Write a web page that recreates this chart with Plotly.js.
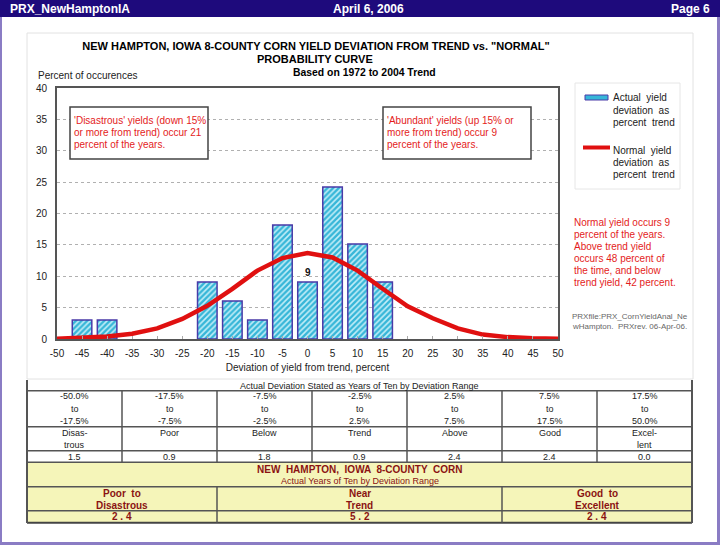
<!DOCTYPE html>
<html><head><meta charset="utf-8">
<script src="https://cdn.plot.ly/plotly-3.0.1.min.js"></script>
<style>html,body{margin:0;padding:0;background:#fff;}#chart{width:720px;height:545px;}</style>
</head><body><div id="chart"></div>
<script>
// ---------- DATA ----------
const barX = [-45, -40, -20, -15, -10, -5, 0, 5, 10, 15];
const barY = [3.03, 3.03, 9.09, 6.06, 3.03, 18.18, 9.09, 24.24, 15.15, 9.09];
const barLabels = ['', '', '', '', '', '', '9', '', '', ''];
const normX = [-50, -45, -40, -35, -30, -25, -20, -15, -10, -5, 0, 5, 10, 15, 20, 25, 30, 35, 40, 45, 50];
const normY = [0.05, 0.2, 0.4, 0.85, 1.7, 3.2, 5.3, 8.0, 10.9, 12.9, 13.7, 13.0, 10.9, 8.0, 5.2, 3.3, 1.7, 0.7, 0.3, 0.12, 0.03];
const xTicks = [-50, -45, -40, -35, -30, -25, -20, -15, -10, -5, 0, 5, 10, 15, 20, 25, 30, 35, 40, 45, 50];
const yTicks = [0, 5, 10, 15, 20, 25, 30, 35, 40];
const rangeLabels = [["-50.0%", "to", "-17.5%"], ["-17.5%", "to", "-7.5%"], ["-7.5%", "to", "-2.5%"], ["-2.5%", "to", "2.5%"], ["2.5%", "to", "7.5%"], ["7.5%", "to", "17.5%"], ["17.5%", "to", "50.0%"]];
const classLabels = [["Disas-", "trous"], ["Poor"], ["Below"], ["Trend"], ["Above"], ["Good"], ["Excel-", "lent"]];
const yearsOfTen = ["1.5", "0.9", "1.8", "0.9", "2.4", "2.4", "0.0"];
const groupLabels = [["Poor  to", "Disastrous"], ["Near", "Trend"], ["Good  to", "Excellent"]];
const groupYears = ["2 . 4", "5 . 2", "2 . 4"];
const legendNames = [["Actual  yield", "deviation  as", "percent  trend"], ["Normal  yield", "deviation  as", "percent  trend"]];
const noteLow = ["'Disastrous' yields (down 15%", "or more from trend) occur 21", "percent of the years."];
const noteHigh = ["'Abundant' yields (up 15% or", "more from trend) occur 9", "percent of the years."];
const noteRight = ["Normal yield occurs 9", "percent of the years.", "Above trend yield", "occurs 48 percent of", "the time, and below", "trend yield, 42 percent."];
const fileNote = ["PRXfile:PRX_CornYieldAnal_Ne", "wHampton.  PRXrev. 06-Apr-06."];

// ---------- LAYOUT HELPERS ----------
const W = 720, H = 545, L = 57, R = 162, T = 88, B = 206;
const PW = W - L - R, PH = H - T - B;
const px = X => (X - L) / PW;
const py = Y => (H - B - Y) / PH;
const F = 'Liberation Sans, Arial, sans-serif';
const RED = '#e41c1c', DARKRED = '#8a1212', GRID = '#555';
const annotations = [], shapes = [];

function txt(s, X, Y, o = {}) {
  annotations.push({
    xref: 'paper', yref: 'paper', x: px(X), y: py(Y), text: o.bold ? '<b>' + s + '</b>' : s,
    showarrow: false, xanchor: o.anchor || 'center', yanchor: 'middle', borderpad: 0,
    font: { family: F, size: o.size || 9, color: o.color || '#222' }
  });
}
function lines(arr, X, Y0, dy, o) { arr.forEach((s, i) => txt(s, X, Y0 + i * dy, o)); }
function rect(X0, Y0, X1, Y1, fill, lc, lw) {
  shapes.push({ type: 'rect', xref: 'paper', yref: 'paper', x0: px(X0), x1: px(X1), y0: py(Y0), y1: py(Y1),
    fillcolor: fill || 'rgba(0,0,0,0)', line: { color: lc || 'rgba(0,0,0,0)', width: lw || 0 }, layer: 'above' });
}
function seg(X0, Y0, X1, Y1, c, w) {
  shapes.push({ type: 'line', xref: 'paper', yref: 'paper', x0: px(X0), x1: px(X1), y0: py(Y0), y1: py(Y1),
    line: { color: c, width: w }, layer: 'above' });
}

// page frame & header
rect(0, 0, 720, 17, '#1e0a7c');
rect(0, 17, 2, 545, '#8a7cc4');
rect(717, 17, 720, 545, '#8a7cc4');
rect(0, 542, 720, 545, '#8a7cc4');
txt('PRX_NewHamptonIA', 9, 8.5, { bold: true, size: 12, color: '#fff', anchor: 'left' });
txt('April 6, 2006', 368, 8.5, { bold: true, size: 12, color: '#fff' });
txt('Page 6', 711, 8.5, { bold: true, size: 12, color: '#fff', anchor: 'right' });
rect(27, 33, 693, 379, null, '#e2e2e2', 1);

// titles
txt('PROBABILITY CURVE', 315, 59, { bold: true, size: 11, color: '#000' });
txt('Based on 1972 to 2004 Trend', 364, 72, { bold: true, size: 10.4, color: '#000' });
txt('Percent of occurences', 37, 75, { size: 10, anchor: 'left', color: '#222' });

// note boxes
rect(70, 107, 208, 159, '#fff', '#444', 1.5);
rect(383, 107, 531, 159, '#fff', '#444', 1.5);
lines(noteLow, 73, 120, 12.2, { size: 10, color: RED, anchor: 'left' });
lines(noteHigh, 386, 120, 12.2, { size: 10, color: RED, anchor: 'left' });
lines(noteRight, 573, 222.5, 11.9, { size: 10, color: RED, anchor: 'left' });
lines(fileNote, 571, 316.5, 10, { size: 8, color: '#666', anchor: 'left' });

// custom legend
rect(575, 83, 680, 189, null, '#e6e6e6', 1);
rect(585, 95, 608, 100, '#36b6d8', '#4a3aa8', 1);
seg(583, 147.5, 610, 147.5, '#e01010', 4);
lines(legendNames[0], 612, 98, 12, { size: 10, color: '#222', anchor: 'left' });
lines(legendNames[1], 612, 150, 12, { size: 10, color: '#222', anchor: 'left' });

// bar value labels
barLabels.forEach((s, i) => {
  if (s) annotations.push({ xref: 'x', yref: 'y', x: barX[i], y: barY[i], text: '<b>' + s + '</b>', showarrow: false,
    yanchor: 'bottom', yshift: 2, font: { family: F, size: 10, color: '#111' } });
});

// ---------- TABLE ----------
const colX = [27, 122, 217, 312, 407, 502, 597, 692];
const grpX = [27, 217, 502, 692];
rect(27, 462.3, 692, 522.7, '#f5f5b9');
[390.7, 426.7, 450.7, 462.3, 486.7, 510.7].forEach(y => seg(27, y, 692, y, GRID, 1.5));
seg(27, 522.7, 692, 522.7, '#444', 2);
seg(27, 380, 27, 523, GRID, 2);
seg(692, 380, 692, 523, GRID, 2);
colX.slice(1, -1).forEach(x => seg(x, 390.7, x, 462.3, GRID, 1.5));
grpX.slice(1, -1).forEach(x => seg(x, 486.7, x, 522.7, GRID, 1.5));
txt('Actual Deviation Stated as Years of Ten by Deviation Range', 359.5, 385.5, { size: 9 });
rangeLabels.forEach((arr, i) => lines(arr, (colX[i] + colX[i + 1]) / 2, 396.3, 12.2, { size: 9 }));
classLabels.forEach((arr, i) => lines(arr, (colX[i] + colX[i + 1]) / 2, 432.8, 12.2, { size: 9 }));
yearsOfTen.forEach((s, i) => txt(s, (colX[i] + colX[i + 1]) / 2, 457, { size: 9 }));
txt('NEW  HAMPTON,  IOWA  8-COUNTY  CORN', 359.5, 469, { bold: true, size: 10, color: DARKRED });
txt('Actual Years of Ten by Deviation Range', 359.5, 481, { size: 9, color: DARKRED });
groupLabels.forEach((arr, i) => lines(arr, (grpX[i] + grpX[i + 1]) / 2, 493.3, 12.2, { bold: true, size: 10, color: DARKRED }));
groupYears.forEach((s, i) => txt(s, (grpX[i] + grpX[i + 1]) / 2, 516.8, { bold: true, size: 10, color: DARKRED }));

// ---------- TRACES ----------
const traces = [
  { type: 'bar', x: barX, y: barY, width: 3.9, name: 'Actual yield deviation as percent trend',
    marker: { color: '#36b6d8', line: { color: '#4a3aa8', width: 1.5 },
      pattern: { shape: '/', bgcolor: '#36b6d8', fgcolor: '#c4eef8', size: 4, solidity: 0.4 } } },
  { type: 'scatter', mode: 'lines', x: normX, y: normY, name: 'Normal yield deviation as percent trend',
    line: { color: '#e01010', width: 4.5 } }
];

const layout = {
  width: W, height: H, margin: { l: L, r: R, t: T, b: B, pad: 0 },
  paper_bgcolor: '#fff', plot_bgcolor: '#fff', showlegend: false,
  font: { family: F, size: 10, color: '#222' },
  title: { text: '<b>NEW HAMPTON, IOWA 8-COUNTY CORN YIELD DEVIATION FROM TREND vs. "NORMAL"</b>',
    x: 316 / W, xref: 'container', xanchor: 'center', y: 1 - 46 / H, yref: 'container', yanchor: 'middle',
    font: { family: F, size: 11, color: '#000' } },
  xaxis: { range: [-50, 50], tickmode: 'array', tickvals: xTicks, ticktext: xTicks.map(String),
    showgrid: false, zeroline: false, showline: true, mirror: true, linecolor: '#555', linewidth: 2,
    ticks: 'inside', ticklen: 3, tickcolor: '#aaa', ticklabelstandoff: 4,
    tickfont: { family: F, size: 10, color: '#222' },
    title: { text: 'Deviation of yield from trend, percent', standoff: 6, font: { family: F, size: 10, color: '#222' } } },
  yaxis: { range: [0, 40], tickmode: 'array', tickvals: yTicks, ticktext: yTicks.map(String),
    showgrid: true, gridcolor: '#b0b0b0', griddash: 'dot', gridwidth: 1, zeroline: false,
    showline: true, mirror: true, linecolor: '#555', linewidth: 2, ticks: '', ticklabelstandoff: 6,
    tickfont: { family: F, size: 10, color: '#222' } },
  bargap: 0.2, annotations: annotations, shapes: shapes
};

Plotly.newPlot('chart', traces, layout, { staticPlot: true, displayModeBar: false });
</script></body></html>
